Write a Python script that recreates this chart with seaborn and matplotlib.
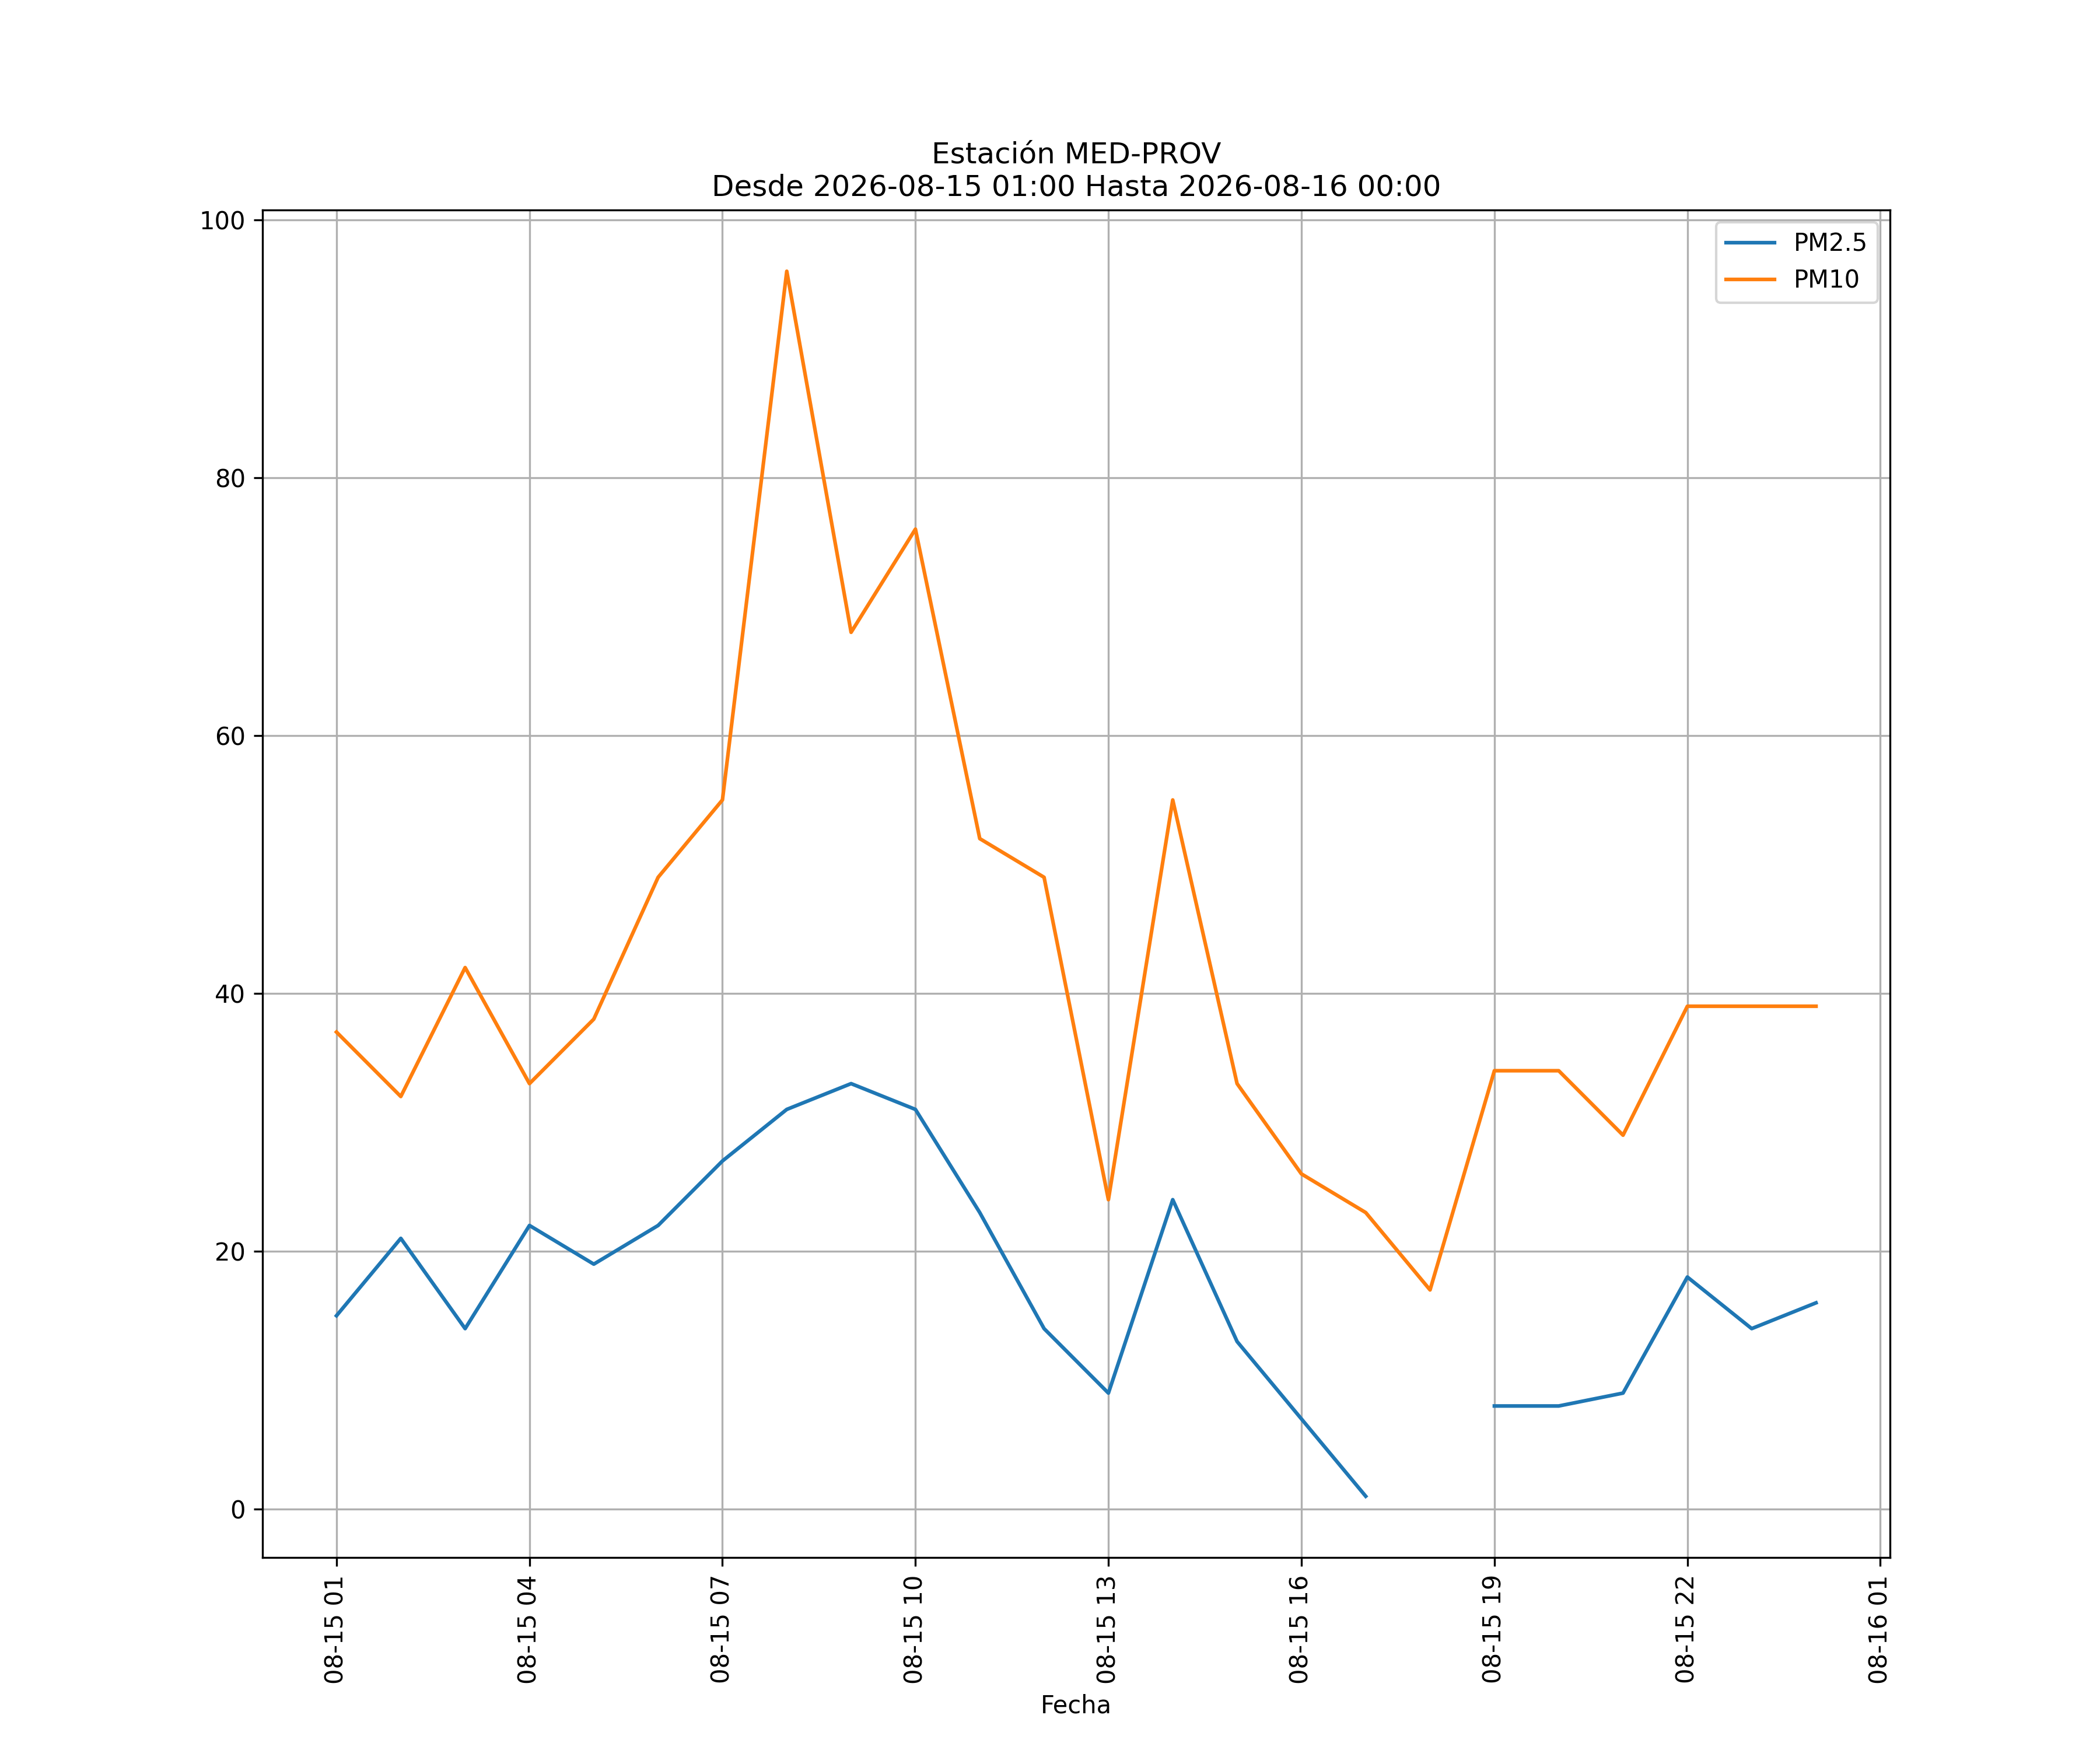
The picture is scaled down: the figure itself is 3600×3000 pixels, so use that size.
import numpy as np
import pandas as pd
import matplotlib
matplotlib.use('Agg')
import matplotlib.pyplot as plt
import matplotlib.dates as mdates
import seaborn as sns

# Hourly readings, 2026-08-15 01:00 .. 2026-08-16 00:00
horas = pd.date_range('2026-08-15 01:00', '2026-08-16 00:00', freq='h')
pm25 = [15, 21, 14, 22, 19, 22, 27, 31, 33, 31, 23, 14, 9, 24, 13, 7, 1,
        np.nan, 8, 8, 9, 18, 14, 16]
pm10 = [37, 32, 42, 33, 38, 49, 55, 96, 68, 76, 52, 49, 24, 55, 33, 26, 23,
        17, 34, 34, 29, 39, 39, 39]
estacion = 'MED-PROV'

df = pd.DataFrame({'Fecha': horas, 'PM2.5': pm25, 'PM10': pm10})
long_df = df.melt(id_vars='Fecha', var_name='Contaminante', value_name='Valor')
# break lines where values are missing
long_df['tramo'] = long_df.groupby('Contaminante')['Valor'].transform(lambda s: s.isna().cumsum())
long_df = long_df.dropna(subset=['Valor'])

fig, ax = plt.subplots(figsize=(12, 10))
sns.lineplot(data=long_df, x='Fecha', y='Valor', hue='Contaminante',
             units='tramo', estimator=None, palette=['tab:blue', 'tab:orange'],
             linewidth=1.5, ax=ax)

ax.set_title(f'Estación {estacion}\nDesde 2026-08-15 01:00 Hasta 2026-08-16 00:00')
ax.set_xlabel('Fecha')
ax.set_ylabel('')
ax.xaxis.set_major_locator(mdates.HourLocator(byhour=range(1, 24, 3)))
ax.xaxis.set_major_formatter(mdates.DateFormatter('%m-%d %H'))
plt.setp(ax.get_xticklabels(), rotation=90)
ax.grid(True)
ax.legend(title=None, loc='upper right')

fig.savefig('out.png', dpi=300)
